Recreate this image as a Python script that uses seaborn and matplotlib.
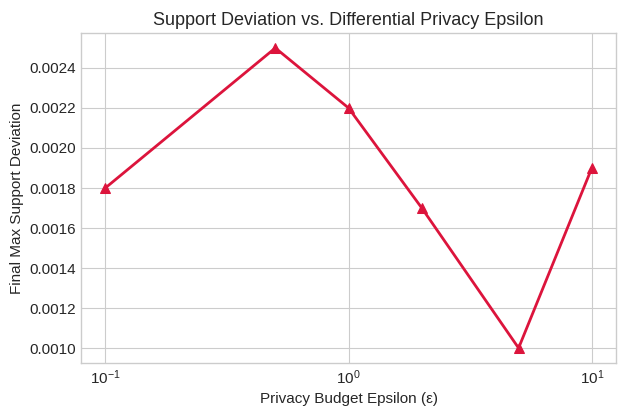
import pandas as pd
import seaborn as sns
import matplotlib
matplotlib.use("Agg")
import matplotlib.pyplot as plt

epsilons = [0.1, 0.5, 1.0, 2.0, 5.0, 10.0]
max_deviation = [0.0018, 0.0025, 0.0022, 0.0017, 0.0010, 0.0019]

df = pd.DataFrame({"epsilon": epsilons, "deviation": max_deviation})

plt.style.use("seaborn-v0_8-whitegrid")
plt.rcParams["font.family"] = ["Liberation Sans", "DejaVu Sans"]

fig, ax = plt.subplots(figsize=(6.18, 4.07), dpi=100)
sns.lineplot(data=df, x="epsilon", y="deviation", marker="^", markersize=7,
             color="crimson", linewidth=2, markeredgecolor="crimson", ax=ax)
ax.set_xscale("log")
ax.set_title("Support Deviation vs. Differential Privacy Epsilon", fontsize=13)
ax.set_xlabel("Privacy Budget Epsilon (ε)", fontsize=11)
ax.set_ylabel("Final Max Support Deviation", fontsize=11)
ax.tick_params(labelsize=11)
for s in ax.spines.values():
    s.set_visible(True)
    s.set_color("#cccccc")
fig.subplots_adjust(left=0.131, right=0.997, top=0.919, bottom=0.108)
plt.savefig("out.png", dpi=100)
